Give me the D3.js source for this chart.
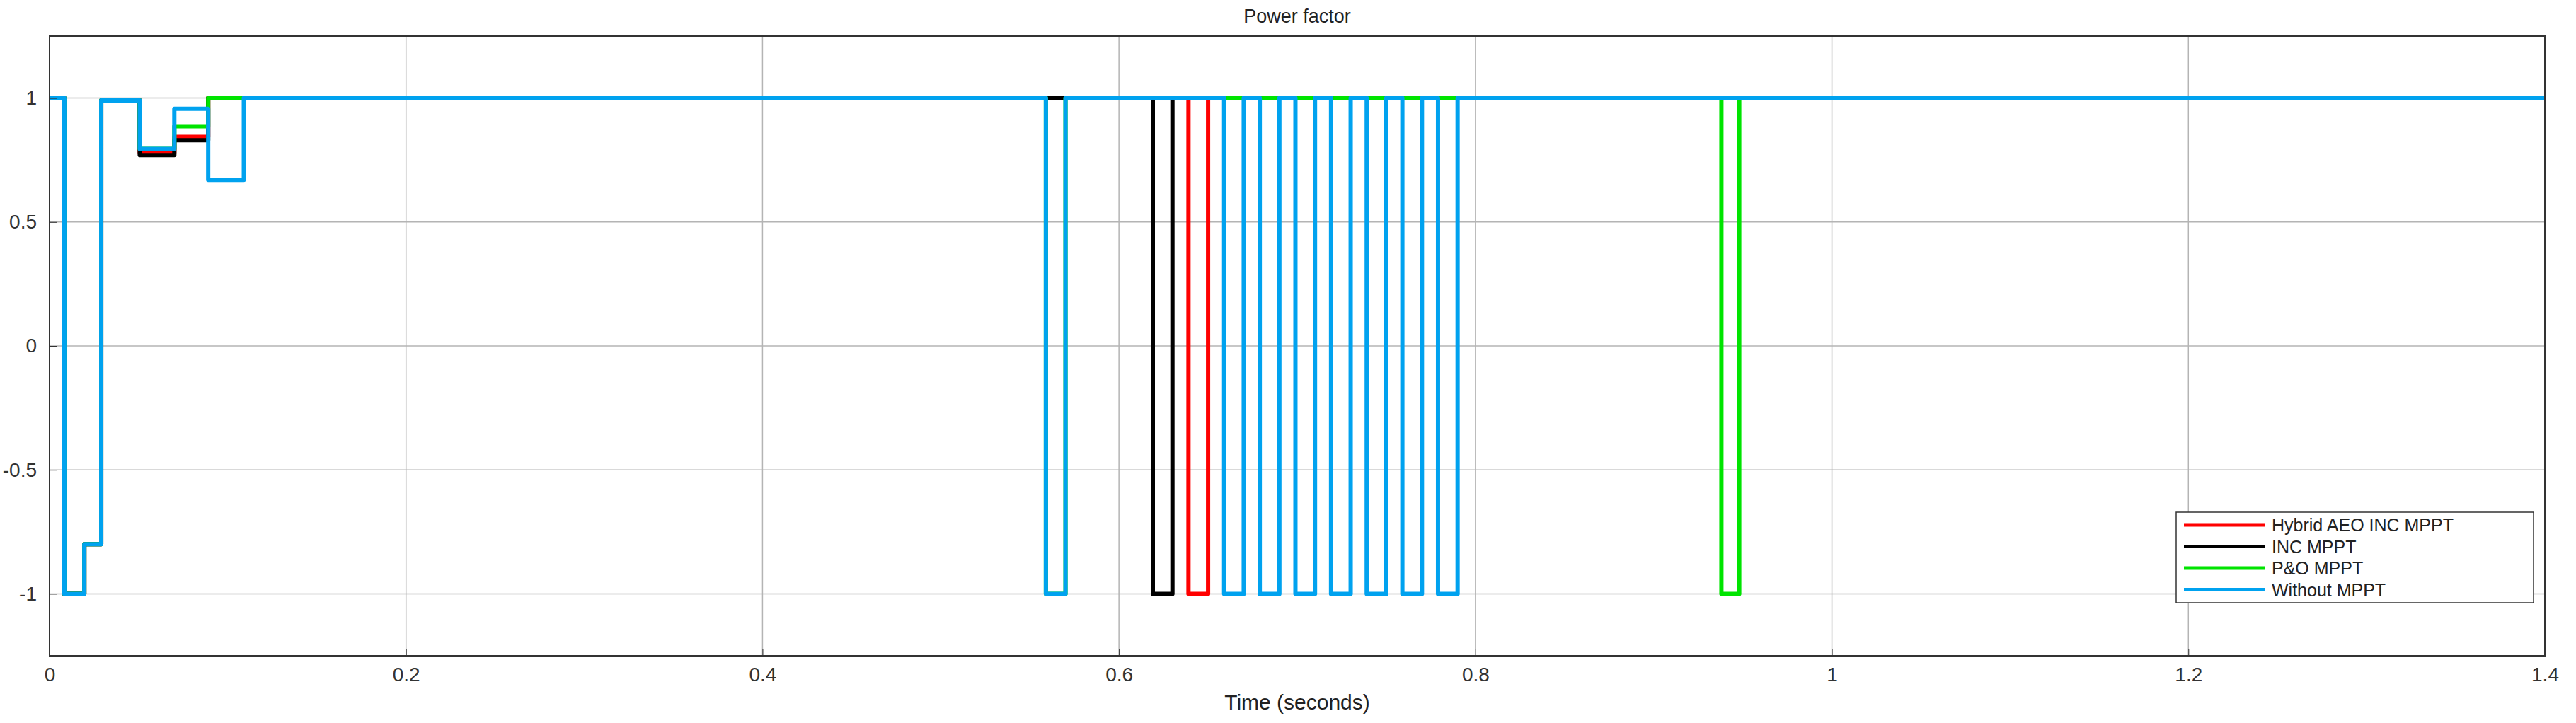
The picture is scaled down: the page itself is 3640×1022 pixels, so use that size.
<!DOCTYPE html>
<html><head><meta charset="utf-8">
<script src="https://cdn.jsdelivr.net/npm/d3@7"></script>
<style>body{margin:0;background:#fff}text{font-family:"Liberation Sans",Arial,sans-serif;fill:#222}</style>
</head><body>
<svg width="3640" height="1022"></svg>
<script>
// step breakpoints [time, power factor]
var seriesNames = ["Hybrid AEO INC MPPT", "INC MPPT", "P&O MPPT", "Without MPPT"];
var seriesColors = ["#ff0000", "#000000", "#00e400", "#00a2ef"];
var hybridPts = [[0,1],[0.0083,-1],[0.0195,-0.8],[0.029,0.99],[0.0506,0.78],[0.070,0.843],[0.089,1],[0.639,-1],[0.650,1],[1.4,1]];
var incPts = [[0,1],[0.0083,-1],[0.0195,-0.8],[0.029,0.99],[0.0506,0.77],[0.070,0.83],[0.089,1],[0.619,-1],[0.630,1],[1.4,1]];
var poPts = [[0,1],[0.0083,-1],[0.0195,-0.8],[0.029,0.99],[0.0506,0.795],[0.070,0.886],[0.089,1],[0.559,-1],[0.570,1],[0.938,-1],[0.948,1],[1.4,1]];
var withoutPts = [[0,1],[0.0083,-1],[0.0195,-0.8],[0.029,0.99],[0.0506,0.795],[0.070,0.957],[0.089,0.67],[0.109,1],
  [0.559,-1],[0.570,1],[0.659,-1],[0.670,1],[0.679,-1],[0.690,1],[0.699,-1],[0.710,1],[0.719,-1],[0.730,1],
  [0.739,-1],[0.750,1],[0.759,-1],[0.770,1],[0.779,-1],[0.790,1],[1.4,1]];
var xTicks = [0, 0.2, 0.4, 0.6, 0.8, 1, 1.2, 1.4];
var yTicks = [-1, -0.5, 0, 0.5, 1];

var svg = d3.select("svg");
var margin = {top: 51, right: 44, bottom: 95, left: 70};
var width = 3640 - margin.left - margin.right,
    height = 1022 - margin.top - margin.bottom;
var g = svg.append("g").attr("transform", "translate(" + margin.left + "," + margin.top + ")");

var x = d3.scaleLinear().domain([0, 1.4]).range([0, width]);
var y = d3.scaleLinear().domain([-1.25, 1.25]).range([height, 0]);

// grid
g.selectAll(".gx").data(xTicks).enter().append("line")
  .attr("x1", d => x(d)).attr("x2", d => x(d)).attr("y1", 0).attr("y2", height)
  .attr("stroke", "#b4b4b4").attr("stroke-width", 1.5);
g.selectAll(".gy").data(yTicks).enter().append("line")
  .attr("x1", 0).attr("x2", width).attr("y1", d => y(d)).attr("y2", d => y(d))
  .attr("stroke", "#b4b4b4").attr("stroke-width", 1.5);

var line = d3.line().x(d => x(d[0])).y(d => y(d[1])).curve(d3.curveStepAfter);
[hybridPts, incPts, poPts, withoutPts].forEach(function(pts, i) {
  g.append("path").datum(pts).attr("d", line)
    .attr("fill", "none").attr("stroke", seriesColors[i])
    .attr("stroke-width", 6).attr("stroke-linejoin", "round");
});

// frame
g.append("rect").attr("width", width).attr("height", height)
  .attr("fill", "none").attr("stroke", "#333").attr("stroke-width", 2);

var fmt = function(d) { return String(d); };
var xAxis = g.append("g").attr("transform", "translate(0," + height + ")")
  .call(d3.axisBottom(x).tickValues(xTicks).tickFormat(fmt).tickSize(-10).tickPadding(16));
var yAxis = g.append("g")
  .call(d3.axisLeft(y).tickValues(yTicks).tickFormat(fmt).tickSize(-10).tickPadding(18));
[xAxis, yAxis].forEach(function(a) {
  a.select(".domain").remove();
  a.selectAll("line").attr("stroke", "#333");
  a.selectAll("text").attr("font-size", 28).style("fill", "#333");
});

svg.append("text").attr("x", margin.left + width / 2).attr("y", 32)
  .attr("text-anchor", "middle").attr("font-size", 27).text("Power factor");
svg.append("text").attr("x", margin.left + width / 2).attr("y", 1003)
  .attr("text-anchor", "middle").attr("font-size", 30).text("Time (seconds)");

// legend
var lg = svg.append("g").attr("transform", "translate(3075,724)");
lg.append("rect").attr("width", 505).attr("height", 128)
  .attr("fill", "#fff").attr("stroke", "#333").attr("stroke-width", 1.5);
seriesNames.forEach(function(n, i) {
  var yy = 18 + i * 30.5;
  lg.append("line").attr("x1", 11).attr("x2", 125).attr("y1", yy).attr("y2", yy)
    .attr("stroke", seriesColors[i]).attr("stroke-width", 5);
  lg.append("text").attr("x", 135).attr("y", yy + 9).attr("font-size", 25).text(n);
});
</script>
</body></html>
